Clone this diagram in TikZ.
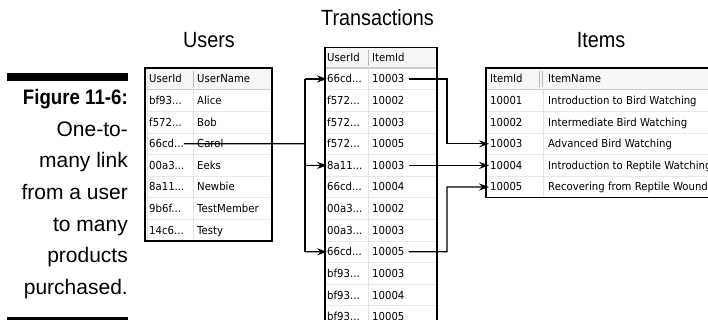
\documentclass[tikz,border=0pt]{standalone}
\usepackage{fontspec}
\setmainfont{Liberation Sans}
\newfontfamily\capfont{Liberation Sans}
\newfontfamily\capbold[FakeStretch=0.89]{Liberation Sans}
\newfontfamily\titlefont[FakeStretch=0.9]{Liberation Sans}
\newfontfamily\tabfont[FakeStretch=0.92]{DejaVu Sans}
\usetikzlibrary{arrows.meta}
\newcommand\dts{...}
\begin{document}
\begin{tikzpicture}[x=1pt,y=-1pt,
  cell/.style={font=\tabfont\fontsize{11}{11}\selectfont, inner sep=0pt, anchor=west, text height=8pt, text depth=0pt, text=black},
  tframe/.style={draw=black, line width=1.2pt},
  rowline/.style={draw=gray!18, line width=0.8pt},
  colline/.style={draw=gray!22, line width=0.8pt},
  hdrfill/.style={fill=gray!7},
  hdrline/.style={draw=gray!40, line width=1.4pt},
  hdrtick/.style={draw=gray!55, line width=0.7pt},
  link/.style={draw=black, line width=1.2pt},
  arr/.style={link, -{Stealth[length=10pt,width=7pt,inset=3.5pt]}},
  title/.style={font=\titlefont\fontsize{22}{22}\selectfont, inner sep=0pt, anchor=base},
  capline/.style={font=\capfont\fontsize{21}{21}\selectfont, inner sep=0pt, anchor=base east},
  capbar/.style={fill=black}
]
\useasboundingbox (0,0) rectangle (708,320);
\clip (0,0) rectangle (708,320);

% ---------- caption ----------
\fill[capbar] (7,73) rectangle (128,81.5);
\fill[capbar] (7,317) rectangle (128,325);
\node[capline, font=\capbold\bfseries\fontsize{21}{21}\selectfont] (c0) at (128,105) {Figure 11-6:};
\node[capline] (c1) at (128,136.5) {One-to-};
\node[capline] (c2) at (128,168) {many link};
\node[capline] (c3) at (128,199.5) {from a user};
\node[capline] (c4) at (128,231) {to many};
\node[capline] (c5) at (128,262.5) {products};
\node[capline] (c6) at (128,294) {purchased.};

% ---------- titles ----------
\node[title] (tU) at (209,48) {Users};
\node[title] (tT) at (377.5,26) {Transactions};
\node[title] (tI) at (601,48) {Items};

% ---------- Users table ----------
\fill[white] (145,68) rectangle (272,241);
\fill[hdrfill] (145,68) rectangle (272,89.8);
\foreach \j in {1,...,6} \draw[rowline] (145,{89.8+21.6*\j}) -- (272,{89.8+21.6*\j});
\draw[colline] (193,89.8) -- (193,241);
\draw[colline] (147.5,68) -- (147.5,241);
\draw[hdrtick] (193,71) -- (193,87);
\draw[hdrline] (145,89.8) -- (272,89.8);
\draw[tframe] (145,68) rectangle (272,241);
\foreach [count=\k from 0] \a/\b in {UserId/UserName, bf93\dts/Alice, f572\dts/Bob, 66cd\dts/Carol, 00a3\dts/Eeks, 8a11\dts/Newbie, 9b6f\dts/TestMember, 14c6\dts/Testy} {
  \node[cell] (ua\k) at (149,{79+21.6*\k}) {\a};
  \node[cell] (ub\k) at (197,{79+21.6*\k}) {\b};
}

% ---------- Transactions table ----------
\fill[white] (325,47.5) rectangle (437,340);
\fill[hdrfill] (325,47.5) rectangle (437,68.2);
\foreach \j in {1,...,12} \draw[rowline] (325,{68.2+21.6*\j}) -- (437,{68.2+21.6*\j});
\draw[colline] (368,68.2) -- (368,340);
\draw[hdrtick] (368,50.5) -- (368,66);
\draw[hdrline] (325,68.2) -- (437,68.2);
\draw[tframe] (325,47.5) rectangle (437,340);
\node[cell] (tha) at (327,57.4) {UserId};
\node[cell] (thb) at (372,57.4) {ItemId};
\foreach [count=\k from 0] \a/\b in {66cd\dts/10003, f572\dts/10002, f572\dts/10003, f572\dts/10005, 8a11\dts/10003, 66cd\dts/10004, 00a3\dts/10002, 00a3\dts/10003, 66cd\dts/10005, bf93\dts/10003, bf93\dts/10004, bf93\dts/10005} {
  \node[cell] (ta\k) at (327,{79+21.6*\k}) {\a};
  \node[cell] (tb\k) at (372,{79+21.6*\k}) {\b};
}

% ---------- Items table ----------
\fill[white] (486,68) rectangle (760,197.8);
\fill[hdrfill] (486,68) rectangle (760,89.8);
\foreach \j in {1,...,4} \draw[rowline] (486,{89.8+21.6*\j}) -- (760,{89.8+21.6*\j});
\draw[colline] (543,89.8) -- (543,197.8);
\draw[hdrtick] (539,71) -- (539,87);
\draw[hdrtick] (542.5,71) -- (542.5,87);
\draw[hdrline] (486,89.8) -- (760,89.8);
\draw[tframe] (486,68) rectangle (760,197.8);
\node[cell] (iha) at (490,79) {ItemId};
\node[cell] (ihb) at (548,79) {ItemName};
\foreach [count=\k from 1] \a/\b in {10001/Introduction to Bird Watching, 10002/Intermediate Bird Watching, 10003/Advanced Bird Watching, 10004/Introduction to Reptile Watching, 10005/Recovering from Reptile Wounds} {
  \node[cell] (ia\k) at (490,{79+21.6*\k}) {\a};
  \node[cell] (ib\k) at (548,{79+21.6*\k}) {\b};
}

% ---------- connectors ----------
\coordinate (busA) at (305,79);
\coordinate (busC) at (305,143.8);
\coordinate (busE) at (305,165.4);
\coordinate (busI) at (305,251.8);
\draw[link] (ua3.east) -- (busC);
\draw[link] (busA) -- (busI);
\draw[arr] (busA) -- (ta0.west);
\draw[arr] (busE) -- (ta4.west);
\draw[arr] (busI) -- (ta8.west);

\coordinate (jA) at (447,79);
\coordinate (jB) at (447,251.8);
\draw[arr, shorten <=4pt, shorten >=1pt] (tb0.east) -- (jA) |- (ia3.west);
\draw[arr, shorten <=4pt, shorten >=1pt] (tb4.east) -- (ia4.west);
\draw[arr, shorten <=4pt, shorten >=1pt] (tb8.east) -- (jB) |- (ia5.west);
\end{tikzpicture}
\end{document}
